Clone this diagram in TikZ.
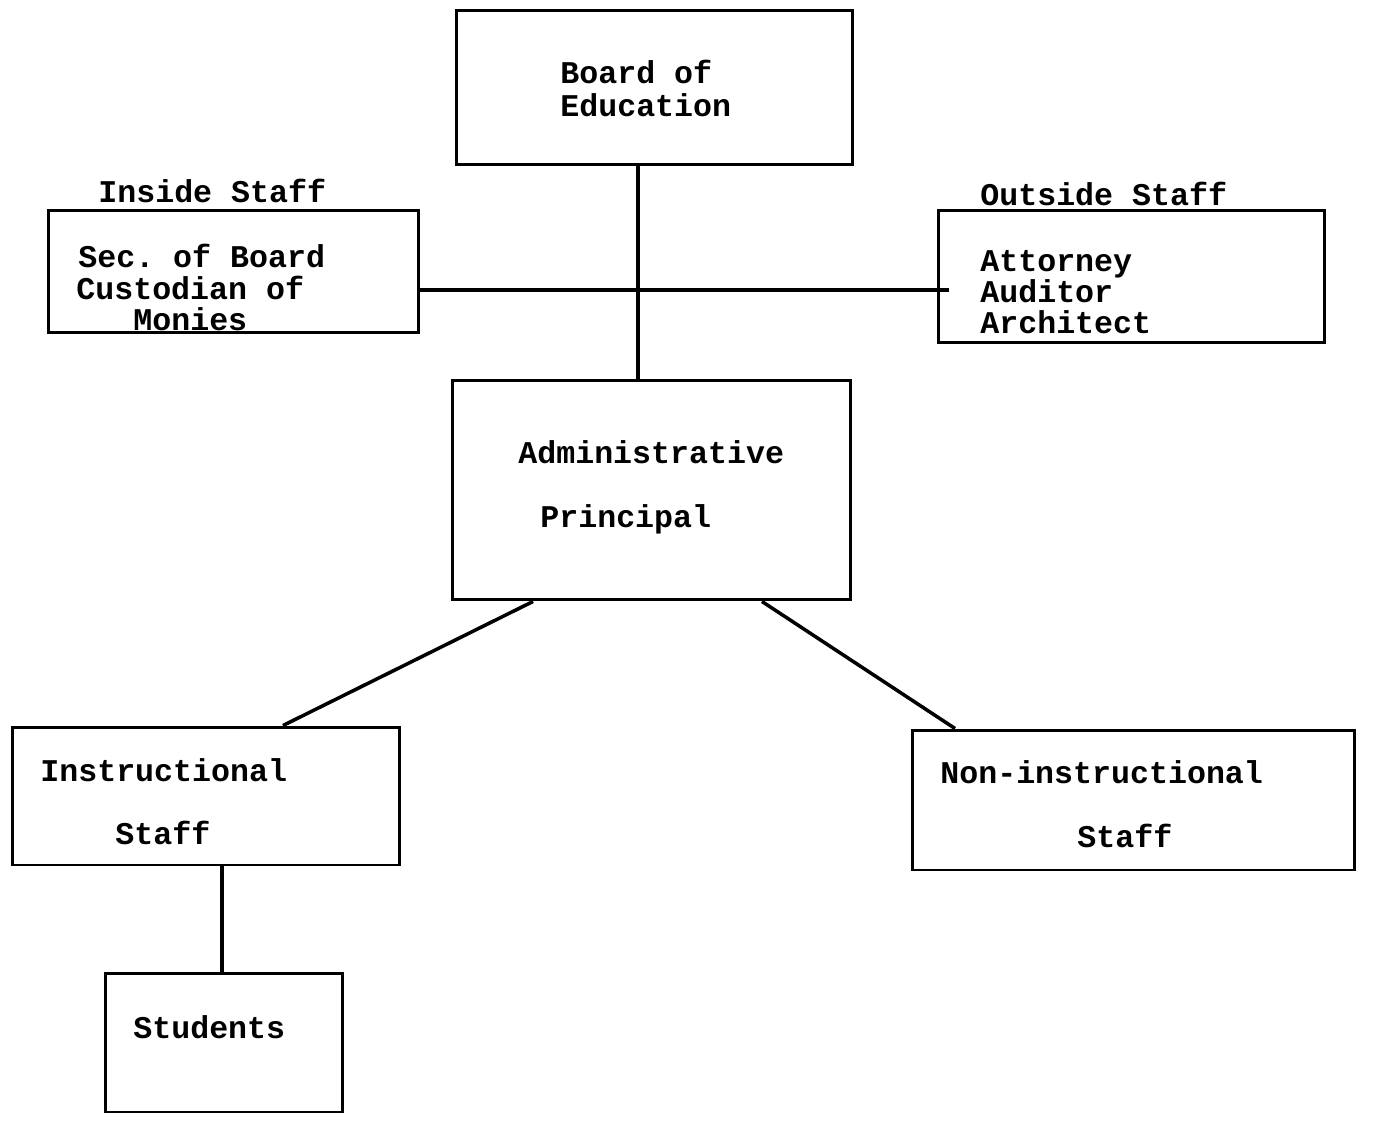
\documentclass[tikz,border=0pt]{standalone}
\usepackage{fontspec}
\setmainfont{Liberation Mono}
\frenchspacing
\begin{document}
\begin{tikzpicture}[x=0.02cm,y=-0.02cm,
  box/.style={draw, line width=1.7pt, inner sep=0pt, rectangle},
  txt/.style={inner sep=0pt, anchor=base west,
    font=\fontsize{18}{18.2}\selectfont\bfseries},
  link/.style={line width=2pt}]
\useasboundingbox (0,0) rectangle (1373,1122);
% boxes
\node[box, minimum width=7.94cm, minimum height=3.1cm] (board) at (654.5,87.5) {};
\node[box, minimum width=7.42cm, minimum height=2.46cm] (inside) at (233.5,271.5) {};
\node[box, minimum width=7.74cm, minimum height=2.66cm] (outside) at (1131.5,276.5) {};
\node[box, minimum width=7.98cm, minimum height=4.4cm] (admin) at (651.5,490) {};
\node[box, minimum width=7.76cm, minimum height=2.76cm] (instr) at (206,796) {};
\node[box, minimum width=8.86cm, minimum height=2.8cm] (noninstr) at (1133.5,800) {};
\node[box, minimum width=4.76cm, minimum height=2.78cm] (students) at (224,1042.5) {};
% texts
\node[txt] (tboard1) at (560,84) {Board of};
\node[txt] (tboard2) at (560,116) {Education};
\node[txt] (tinsidelbl) at (98,202) {Inside Staff};
\node[txt] (tinside1) at (78,267) {Sec. of Board};
\node[txt] (tinside2) at (76,299) {Custodian of};
\node[txt] (tinside3) at (133,330) {Monies};
\node[txt] (toutsidelbl) at (980,205) {Outside Staff};
\node[txt] (toutside1) at (980,271) {Attorney};
\node[txt] (toutside2) at (980,302) {Auditor};
\node[txt] (toutside3) at (980,333) {Architect};
\node[txt] (tadmin1) at (518,463) {Administrative};
\node[txt] (tadmin2) at (540,527) {Principal};
\node[txt] (tinstr1) at (40,781) {Instructional};
\node[txt] (tinstr2) at (115,844) {Staff};
\node[txt] (tnon1) at (940,783) {Non-instructional};
\node[txt] (tnon2) at (1077,847) {Staff};
\node[txt] (tstud) at (133,1038) {Students};
% connectors
\coordinate (spine) at (638,290);
\draw[link] (spine |- board.south) -- (spine |- admin.north);
\draw[link] (inside.east |- spine) -- ([xshift=0.24cm]outside.west |- spine);
\draw[link] ([xshift=-2.37cm]admin.south) -- ([xshift=1.54cm]instr.north);
\draw[link] ([xshift=2.21cm]admin.south) -- ([xshift=-3.57cm]noninstr.north);
\draw[link] ([xshift=0.32cm]instr.south) -- ([xshift=0.32cm]instr.south |- students.north);
\end{tikzpicture}
\end{document}
